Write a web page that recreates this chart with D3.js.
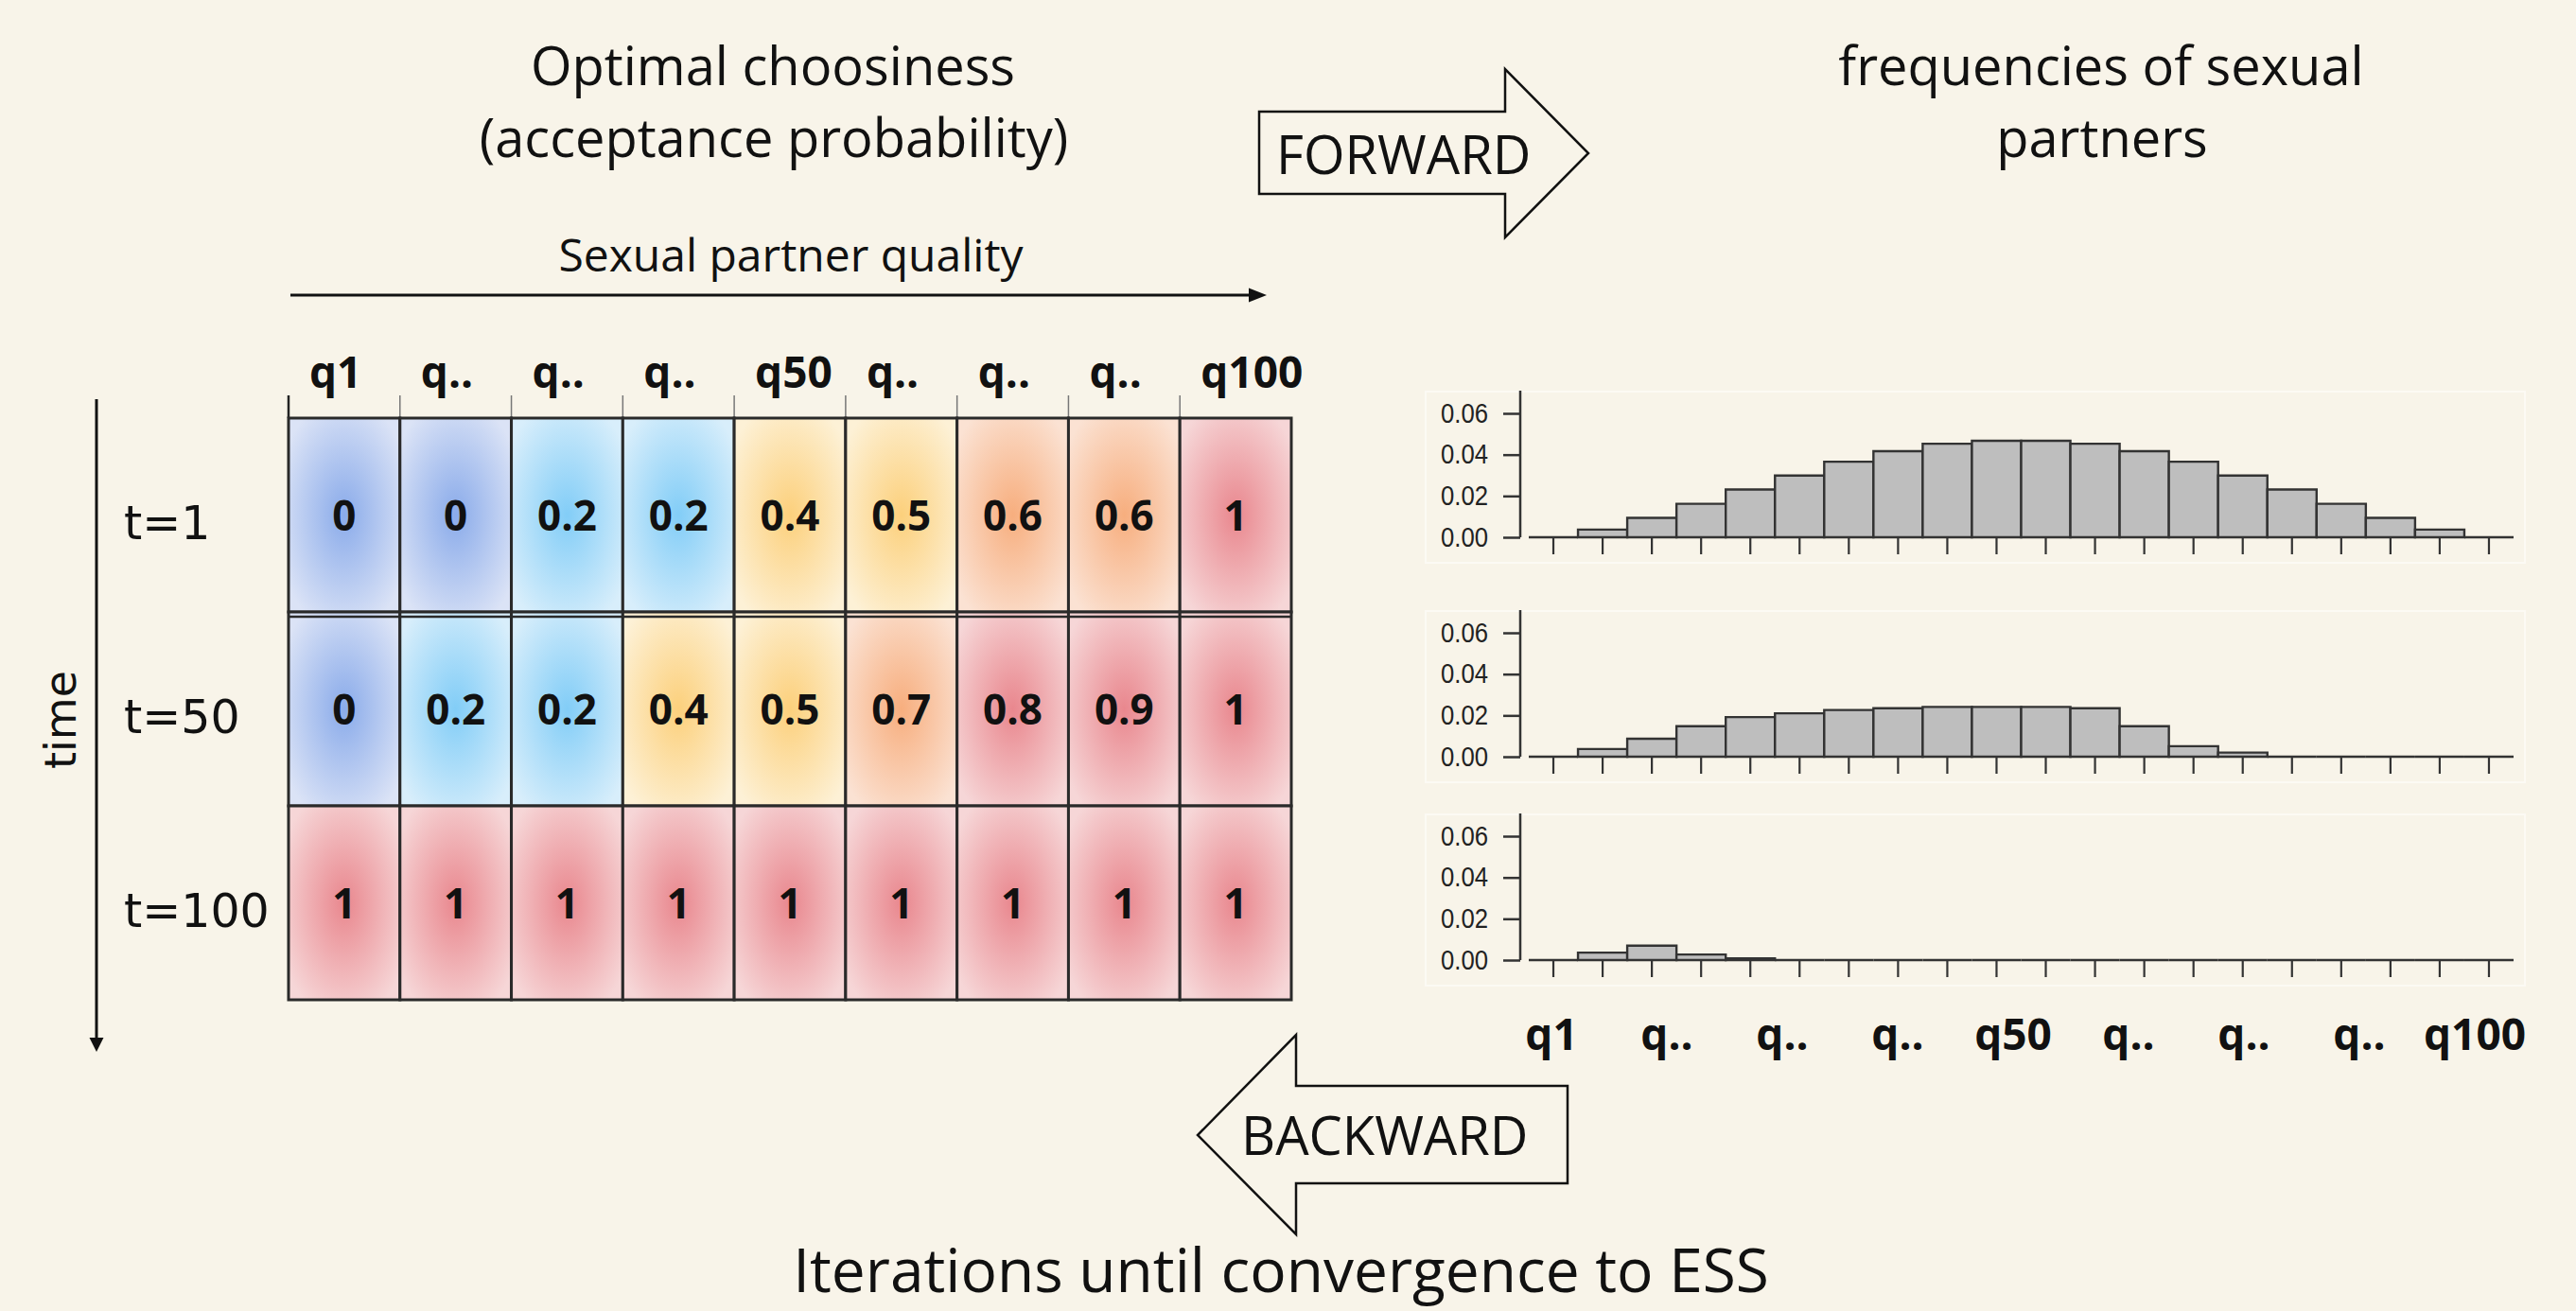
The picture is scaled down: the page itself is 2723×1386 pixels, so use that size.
<!DOCTYPE html>
<html><head><meta charset="utf-8">
<script src="https://cdn.jsdelivr.net/npm/d3@7"></script>
<style>html,body{margin:0;padding:0;background:#f8f4e9;} svg{display:block}</style>
</head><body><svg id="c" width="2723" height="1386"></svg>
<script>
// ---------------- DATA ----------------
const qualityLabels = ["q1","q..","q..","q..","q50","q..","q..","q..","q100"];
const timeLabels = ["t=1","t=50","t=100"];
const choosinessT1   = [0, 0, 0.2, 0.2, 0.4, 0.5, 0.6, 0.6, 1];
const choosinessT50  = [0, 0.2, 0.2, 0.4, 0.5, 0.7, 0.8, 0.9, 1];
const choosinessT100 = [1, 1, 1, 1, 1, 1, 1, 1, 1];
const freqT1   = [0, 0.0037, 0.0094, 0.0162, 0.0231, 0.0299, 0.0366, 0.0417, 0.0453, 0.0467,
                  0.0467, 0.0453, 0.0417, 0.0366, 0.0299, 0.0231, 0.0162, 0.0094, 0.0037, 0];
const freqT50  = [0, 0.0037, 0.0087, 0.0148, 0.0192, 0.0210, 0.0226, 0.0235, 0.0241, 0.0241,
                  0.0241, 0.0235, 0.0148, 0.0051, 0.0020, 0, 0, 0, 0, 0];
const freqT100 = [0, 0.0036, 0.0070, 0.0027, 0.0008, 0, 0, 0, 0, 0,
                  0, 0, 0, 0, 0, 0, 0, 0, 0, 0];
const yTickValues = [0, 0.02, 0.04, 0.06];
const titleLeft = ["Optimal choosiness", "(acceptance probability)"];
const titleRight = ["frequencies of sexual", "partners"];

// ---------------- SETUP ----------------
const W = 2723, H = 1386, BG = "#f8f4e9";
const svg = d3.select("#c");
svg.append("rect").attr("width", W).attr("height", H).attr("fill", BG);
const defs = svg.append("defs");

const palette = {
  blue:   ["#8aabea", "#dbe3f6"],
  sky:    ["#82cdf7", "#d8eefb"],
  yellow: ["#fcd07c", "#fdf1d6"],
  orange: ["#f7ae7e", "#fbe2d3"],
  red:    ["#e9878e", "#f6d6d7"]
};
Object.entries(palette).forEach(([k, [c0, c1]]) => {
  const g = defs.append("radialGradient").attr("id", "g-" + k)
    .attr("cx", "50%").attr("cy", "50%").attr("r", "62%");
  g.append("stop").attr("offset", "0%").attr("stop-color", c0);
  g.append("stop").attr("offset", "100%").attr("stop-color", c1);
});
const colorCat = d3.scaleThreshold().domain([0.1, 0.3, 0.55, 0.75])
  .range(["blue", "sky", "yellow", "orange", "red"]);

const SANS = "'Open Sans', 'Liberation Sans', sans-serif";

// ---------------- TITLES ----------------
svg.append("text").attr("x", 817).attr("y", 90).attr("text-anchor", "middle")
  .attr("font-family", SANS).attr("font-size", 56).attr("fill", "#111").text(titleLeft[0]);
svg.append("text").attr("x", 818).attr("y", 166).attr("text-anchor", "middle")
  .attr("font-family", SANS).attr("font-size", 56).attr("fill", "#111").text(titleLeft[1]);
svg.append("text").attr("x", 2221).attr("y", 90).attr("text-anchor", "middle")
  .attr("font-family", SANS).attr("font-size", 56).attr("fill", "#111").text(titleRight[0]);
svg.append("text").attr("x", 2222).attr("y", 166).attr("text-anchor", "middle")
  .attr("font-family", SANS).attr("font-size", 56).attr("fill", "#111").text(titleRight[1]);

// Sexual partner quality arrow
svg.append("text").attr("x", 836).attr("y", 287).attr("text-anchor", "middle")
  .attr("font-family", SANS).attr("font-size", 48).attr("fill", "#111").text("Sexual partner quality");
svg.append("line").attr("x1", 307).attr("x2", 1324).attr("y1", 312).attr("y2", 312)
  .attr("stroke", "#111").attr("stroke-width", 3);
svg.append("path").attr("d", "M1320,304.5 L1339,312 L1320,319.5 Z").attr("fill", "#111");

// FORWARD block arrow
svg.append("path").attr("d", "M1331,118 L1591,118 L1591,73 L1679,162 L1591,251 L1591,205 L1331,205 Z")
  .attr("fill", BG).attr("stroke", "#111").attr("stroke-width", 2.5).attr("stroke-linejoin", "miter");
svg.append("text").attr("x", 1349).attr("y", 184).attr("font-family", SANS).attr("font-size", 56)
  .attr("fill", "#111").text("FORWARD");

// BACKWARD block arrow
svg.append("path").attr("d", "M1657,1148 L1370,1148 L1370,1094 L1266,1200 L1370,1305 L1370,1251 L1657,1251 Z")
  .attr("fill", BG).attr("stroke", "#111").attr("stroke-width", 2.5);
svg.append("text").attr("x", 1312).attr("y", 1221).attr("font-family", SANS).attr("font-size", 56)
  .attr("fill", "#111").text("BACKWARD");

// Bottom caption
svg.append("text").attr("x", 1354).attr("y", 1366).attr("text-anchor", "middle")
  .attr("font-family", SANS).attr("font-size", 64).attr("fill", "#111").text("Iterations until convergence to ESS");

// ---------------- GRID ----------------
const gx = d3.scaleBand().domain(d3.range(qualityLabels.length)).range([305, 1365]);
const gy = d3.scaleBand().domain(d3.range(timeLabels.length)).range([442, 1057]);
const rows = [choosinessT1, choosinessT50, choosinessT100];

// small tick lines above header
svg.append("g").selectAll("line").data(d3.range(qualityLabels.length)).join("line")
  .attr("x1", d => gx(d)).attr("x2", d => gx(d)).attr("y1", 418).attr("y2", 442)
  .attr("stroke", (d) => d === 0 ? "#222" : "#777").attr("stroke-width", d => d === 0 ? 2.5 : 1.5);

svg.append("g").selectAll("text").data(qualityLabels).join("text")
  .attr("x", (d, i) => gx(i) + 22).attr("y", 410)
  .attr("font-family", SANS).attr("font-weight", 700).attr("font-size", 46).attr("fill", "#111")
  .text(d => d);

const cells = [];
rows.forEach((r, ri) => r.forEach((v, ci) => cells.push({ri, ci, v})));
const cellG = svg.append("g");
cellG.selectAll("rect").data(cells).join("rect")
  .attr("x", d => gx(d.ci)).attr("y", d => gy(d.ri))
  .attr("width", gx.bandwidth()).attr("height", gy.bandwidth())
  .attr("fill", d => "url(#g-" + colorCat(d.v) + ")")
  .attr("stroke", "#2a2a2a").attr("stroke-width", 3);
cellG.selectAll("text").data(cells).join("text")
  .attr("x", d => gx(d.ci) + gx.bandwidth() / 2).attr("y", d => gy(d.ri) + gy.bandwidth() / 2 + 16)
  .attr("text-anchor", "middle").attr("font-family", SANS).attr("font-weight", 700)
  .attr("font-size", 44).attr("fill", "#111").text(d => String(d.v));
// double line between first and second rows
svg.append("line").attr("x1", 305).attr("x2", 1365).attr("y1", gy(1) + 5).attr("y2", gy(1) + 5)
  .attr("stroke", "#2a2a2a").attr("stroke-width", 2.5);

// row labels
svg.append("g").selectAll("text").data(timeLabels).join("text")
  .attr("x", 131).attr("y", (d, i) => gy(i) + gy.bandwidth() / 2 + 25)
  .attr("font-family", "'DejaVu Sans', sans-serif").attr("font-size", 49).attr("fill", "#111")
  .text(d => d);

// time arrow
svg.append("line").attr("x1", 102).attr("x2", 102).attr("y1", 422).attr("y2", 1099)
  .attr("stroke", "#111").attr("stroke-width", 3);
svg.append("path").attr("d", "M94.5,1097 L109.5,1097 L102,1112 Z").attr("fill", "#111");
svg.append("text").attr("transform", "translate(80,761) rotate(-90)").attr("text-anchor", "middle")
  .attr("font-family", "'DejaVu Sans', sans-serif").attr("font-size", 46).attr("fill", "#111").text("time");

// ---------------- HISTOGRAMS ----------------
const xb = d3.scaleBand().domain(d3.range(freqT1.length)).range([1616, 2657]);
const panels = [freqT1, freqT50, freqT100];
const zeros = [568, 800, 1015];
const axisX = 1607;

panels.forEach((freq, pi) => {
  const z = zeros[pi];
  const y = d3.scaleLinear().domain([0, 0.06]).range([z, z - 131]);
  const g = svg.append("g");
  // faint frame
  g.append("rect").attr("x", 1507).attr("y", z - 154).attr("width", 1162).attr("height", 181)
    .attr("fill", "none").attr("stroke", "#fcfaf4").attr("stroke-width", 2);
  // bars
  g.selectAll("path.bar").data(freq).join("path").attr("class", "bar")
    .attr("d", (d, i) => {
      const x0 = xb(i), x1 = xb(i) + xb.bandwidth();
      return `M${x0},${y(0)} L${x0},${y(d)} L${x1},${y(d)} L${x1},${y(0)} Z`;
    })
    .attr("fill", "#bebebe").attr("stroke", "#333").attr("stroke-width", 2.4);
  // y axis
  const ya = g.append("g").attr("transform", `translate(${axisX},0)`)
    .call(d3.axisLeft(y).tickValues(yTickValues).tickSize(18).tickPadding(16).tickFormat(d3.format(".2f")));
  ya.select(".domain").remove();
  ya.selectAll(".tick line").attr("stroke", "#333").attr("stroke-width", 2.5);
  ya.selectAll(".tick text").attr("font-family", "'Liberation Sans', Arial, sans-serif")
    .attr("font-size", 29).attr("fill", "#222").attr("textLength", 50).attr("lengthAdjust", "spacingAndGlyphs");
  g.append("line").attr("x1", axisX).attr("x2", axisX).attr("y1", z).attr("y2", z - 155)
    .attr("stroke", "#333").attr("stroke-width", 2.5);
  // x axis ticks
  const xa = g.append("g").attr("transform", `translate(0,${z})`)
    .call(d3.axisBottom(xb).tickSize(18).tickSizeOuter(0).tickFormat(""));
  xa.select(".domain").remove();
  xa.selectAll(".tick line").attr("stroke", "#333").attr("stroke-width", 2.2);
});

// bottom quality labels
const xq = d3.scalePoint().domain(d3.range(qualityLabels.length)).range([1640, 2616]);
svg.append("g").selectAll("text").data(qualityLabels).join("text")
  .attr("x", (d, i) => xq(i)).attr("y", 1110).attr("text-anchor", "middle")
  .attr("font-family", SANS).attr("font-weight", 700).attr("font-size", 46).attr("fill", "#111")
  .text(d => d);
</script></body></html>
